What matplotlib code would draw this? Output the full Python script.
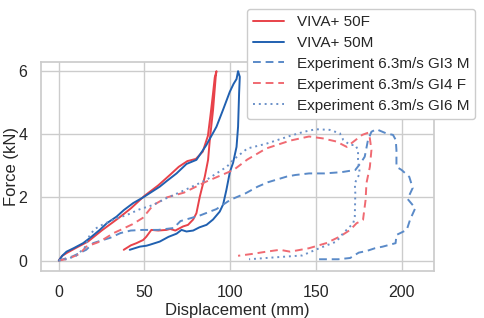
"""
Force-displacement comparison: VIVA+ models vs. experiments
"""

import matplotlib
matplotlib.use('Agg')
import matplotlib.pyplot as plt
import seaborn as sns

# VIVA+ 50F (loading + unloading)
viva_50f_x = [0, 2, 5, 10, 17, 25, 35, 42, 50, 58, 65, 70, 75, 80, 84, 87, 88.5, 90, 91, 92, 91.6,
              90, 88.1, 87.1, 85.2, 82.3, 80.3, 78.4, 75.4, 72.5, 68, 65, 62.8, 58, 54, 51, 49.2,
              45.3, 42, 37.9]
viva_50f_y = [0, 0.15, 0.25, 0.4, 0.6, 0.95, 1.35, 1.65, 2.05, 2.38, 2.72, 2.97, 3.15, 3.22, 3.45,
              3.95, 4.6, 5.3, 5.8, 6.0, 5.85, 4.77, 3.82, 3.19, 2.66, 2.03, 1.5, 1.3, 1.13, 1.08, 0.95,
              1.0, 0.97, 0.95, 0.97, 0.75, 0.65, 0.55, 0.48, 0.34]

# VIVA+ 50M (loading + unloading)
viva_50m_x = [0, 2, 4.5, 9, 14.2, 19, 23.9, 28, 33.7, 38, 43.4, 49.2, 58.9, 63, 68.7, 74.5, 80.3,
              86, 92, 96, 99.8, 102, 103.7, 104.6, 105.6, 105.2, 104.6, 103.7, 101.7, 99.8, 97.8,
              95.9, 93.9, 90, 86.2, 82, 78.4, 74.5, 71.6, 68.7, 64, 58.9, 53.1, 51.2, 47.3, 41.4]
viva_50m_y = [0, 0.15, 0.28, 0.4, 0.55, 0.75, 0.97, 1.18, 1.39, 1.6, 1.82, 2.0, 2.34, 2.52, 2.76,
              3.06, 3.19, 3.65, 4.24, 4.8, 5.35, 5.6, 5.75, 6.0, 5.82, 5.3, 4.24, 3.6, 3.1, 2.8,
              2.24, 1.78, 1.55, 1.3, 1.13, 1.05, 0.95, 0.92, 0.97, 0.85, 0.75, 0.6, 0.5, 0.47, 0.44,
              0.34]

# Experiment 6.3m/s GI3 M
gi3_x = [0, 8, 16, 20, 24, 30, 36, 42, 49, 58, 67, 71, 82, 92, 100, 109, 116, 122, 133, 138, 146,
         155, 165, 173, 176, 178.5, 180.4, 182.4, 185.3, 191, 195, 196.6, 197, 197, 200, 204.5,
         206.5, 203.5, 208, 205, 203, 197, 196.5, 189, 184.5, 179.5, 175, 170, 163, 150]
gi3_y = [0, 0.13, 0.34, 0.55, 0.62, 0.72, 0.87, 0.95, 0.97, 0.97, 1.03, 1.25, 1.42, 1.63, 1.92,
         2.13, 2.34, 2.48, 2.66, 2.71, 2.76, 2.76, 2.8, 2.87, 3.08, 3.29, 3.82, 4.08, 4.16, 4.03,
         3.98, 3.82, 3.5, 2.97, 2.87, 2.65, 2.3, 1.95, 1.66, 1.3, 0.97, 0.81, 0.55, 0.44, 0.39,
         0.3, 0.25, 0.08, 0.04, 0.04]

# Experiment 6.3m/s GI4 F
gi4_x = [0, 5, 12, 16, 24, 32, 36, 43, 49, 55, 63, 73, 86, 102, 110, 121, 135, 146, 154, 162, 168,
         172, 177, 180.5, 181.5, 182.4, 181.5, 179.5, 179, 177.5, 173.7, 170, 164, 156, 146, 135,
         129, 121, 113, 104.6]
gi4_y = [0, 0.05, 0.2, 0.44, 0.6, 0.87, 0.97, 1.15, 1.35, 1.75, 2.0, 2.15, 2.5, 2.87, 3.2, 3.55,
         3.8, 3.93, 3.87, 3.77, 3.6, 3.77, 3.98, 4.05, 3.87, 3.5, 2.97, 2.45, 1.92, 1.29, 1.18,
         0.97, 0.76, 0.55, 0.39, 0.28, 0.34, 0.28, 0.21, 0.15]

# Experiment 6.3m/s GI6 M
gi6_x = [0, 5, 10, 15, 18, 21, 26, 33, 40, 47, 55, 63, 73, 86, 98, 102, 110, 121, 135, 143, 150,
         158, 164, 166, 170, 173, 174.6, 174.6, 175.6, 172.7, 173, 172.7, 171.8, 166, 162, 152,
         142, 126, 111]
gi6_y = [0, 0.05, 0.15, 0.4, 0.8, 1.0, 1.15, 1.32, 1.45, 1.62, 1.76, 1.98, 2.22, 2.55, 2.97, 3.2,
         3.55, 3.7, 3.95, 4.08, 4.16, 4.14, 4.03, 3.82, 3.66, 3.66, 3.5, 3.19, 2.76, 2.45, 2.13,
         1.39, 1.18, 0.87, 0.6, 0.39, 0.16, 0.1, 0.04]

sns.set_theme(style='whitegrid')
plt.rcParams['font.family'] = ['Liberation Sans', 'DejaVu Sans']

fig = plt.figure(figsize=(4.84, 3.18), dpi=100)
ax = fig.add_axes([0.085, 0.148, 0.812, 0.657])

ax.plot(viva_50f_x, viva_50f_y, color='#e8424a', linewidth=1.4, label='VIVA+ 50F')
ax.plot(viva_50m_x, viva_50m_y, color='#2060b0', linewidth=1.4, label='VIVA+ 50M')
ax.plot(gi3_x, gi3_y, color='#5a8ac8', linewidth=1.4, linestyle=(0, (4, 2.5)),
        label='Experiment 6.3m/s GI3 M')
ax.plot(gi4_x, gi4_y, color='#f06a72', linewidth=1.4, linestyle=(0, (4, 2.5)),
        label='Experiment 6.3m/s GI4 F')
ax.plot(gi6_x, gi6_y, color='#6a90c8', linewidth=1.4, linestyle=(0, (1, 2)),
        label='Experiment 6.3m/s GI6 M')

ax.set_xlim(-10.3, 219)
ax.set_ylim(-0.33, 6.29)
ax.set_xticks([0, 50, 100, 150, 200])
ax.set_yticks([0, 2, 4, 6])
ax.tick_params(labelsize=11.5, pad=4)
ax.set_xlabel('Displacement (mm)', fontsize=12)
ax.set_ylabel('Force (kN)', fontsize=12)
ax.xaxis.set_label_coords(0.5, -0.155)
ax.yaxis.set_label_coords(-0.056, 0.5)
for spine in ax.spines.values():
    spine.set_color('#cccccc')

ax.legend(loc='upper right', bbox_to_anchor=(0.998, 0.996), bbox_transform=fig.transFigure,
          fontsize=11, frameon=True, handlelength=2.0, borderpad=0.4, labelspacing=0.45,
          handletextpad=0.85, framealpha=1.0, edgecolor='#cccccc')

fig.savefig('out.png', dpi=100)
